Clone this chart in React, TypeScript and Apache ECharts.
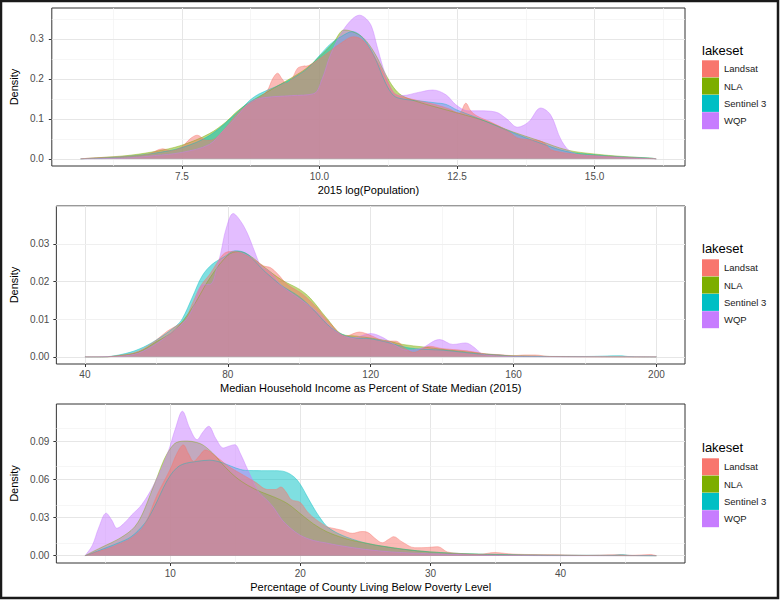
import React, { useEffect, useRef } from "react";
import * as echarts from "echarts";

type Pt = [number, number];

const seriesNames = ["Landsat", "NLA", "Sentinel 3", "WQP"];
const seriesColors = ["#F8766D", "#7CAE00", "#00BFC4", "#C77CFF"];
const legendTitle = "lakeset";
const yTitle = "Density";
const xTitles = [
  "2015 log(Population)",
  "Median Household Income as Percent of State Median (2015)",
  "Percentage of County Living Below Poverty Level",
];

// ---------- Panel 1: 2015 log(Population) ----------
const popXTicks = [7.5, 10, 12.5, 15];
const popXMinor = [6.25, 8.75, 11.25, 13.75, 16.25];
const popYTicks = [0, 0.1, 0.2, 0.3];
const popYMinor = [0.05, 0.15, 0.25, 0.35];

const popLandsat: Pt[] = [
  [5.66, 0], [6.0, 0.003], [6.5, 0.006], [6.9, 0.012], [7.15, 0.025], [7.3, 0.02], [7.5, 0.03],
  [7.65, 0.05], [7.78, 0.059], [7.95, 0.046], [8.1, 0.05], [8.3, 0.078], [8.5, 0.112], [8.7, 0.135],
  [8.9, 0.152], [9.05, 0.17], [9.15, 0.2], [9.24, 0.214], [9.32, 0.2], [9.4, 0.189], [9.5, 0.2],
  [9.6, 0.226], [9.68, 0.231], [9.8, 0.233], [10.0, 0.25], [10.2, 0.27], [10.4, 0.29], [10.62, 0.305],
  [10.8, 0.295], [11.0, 0.255], [11.12, 0.226], [11.25, 0.19], [11.36, 0.164], [11.5, 0.155],
  [11.65, 0.15], [11.9, 0.142], [12.12, 0.135], [12.35, 0.125], [12.54, 0.114], [12.66, 0.139],
  [12.75, 0.12], [12.85, 0.108], [13.14, 0.09], [13.43, 0.069], [13.6, 0.052], [13.79, 0.048],
  [14.0, 0.045], [14.1, 0.038], [14.2, 0.023], [14.4, 0.016], [14.62, 0.012], [15.0, 0.008],
  [15.52, 0.004], [16.12, 0],
];
const popNLA: Pt[] = [
  [5.66, 0], [6.0, 0.003], [6.5, 0.008], [7.0, 0.018], [7.5, 0.034], [8.0, 0.063], [8.3, 0.092],
  [8.5, 0.118], [8.75, 0.143], [9.0, 0.163], [9.25, 0.183], [9.5, 0.203], [9.75, 0.225], [10.0, 0.255],
  [10.25, 0.29], [10.45, 0.322], [10.6, 0.318], [10.8, 0.302], [11.0, 0.265], [11.2, 0.212],
  [11.35, 0.178], [11.5, 0.158], [11.8, 0.142], [12.1, 0.13], [12.5, 0.115], [13.0, 0.095],
  [13.5, 0.068], [14.0, 0.045], [14.5, 0.022], [15.0, 0.012], [15.5, 0.006], [16.0, 0.002], [16.12, 0],
];
const popSentinel: Pt[] = [
  [5.66, 0], [6.0, 0.002], [6.5, 0.006], [7.0, 0.014], [7.5, 0.028], [8.0, 0.058], [8.5, 0.115],
  [8.75, 0.148], [8.9, 0.162], [9.2, 0.18], [9.5, 0.2], [9.8, 0.228], [10.0, 0.258], [10.2, 0.287],
  [10.4, 0.306], [10.6, 0.318], [10.8, 0.3], [11.0, 0.255], [11.2, 0.19], [11.35, 0.158], [11.5, 0.15],
  [11.8, 0.145], [12.1, 0.14], [12.3, 0.136], [12.5, 0.122], [12.8, 0.106], [13.0, 0.095],
  [13.5, 0.066], [14.0, 0.04], [14.5, 0.018], [15.0, 0.01], [15.5, 0.005], [16.0, 0.002], [16.12, 0],
];
const popWQP: Pt[] = [
  [5.66, 0], [6.5, 0.002], [7.0, 0.008], [7.5, 0.016], [8.0, 0.036], [8.25, 0.07], [8.5, 0.106],
  [8.75, 0.143], [9.0, 0.153], [9.5, 0.158], [9.9, 0.163], [10.05, 0.2], [10.2, 0.26], [10.4, 0.315],
  [10.6, 0.35], [10.73, 0.359], [10.85, 0.35], [10.95, 0.33], [11.05, 0.28], [11.2, 0.21],
  [11.35, 0.165], [11.5, 0.158], [11.8, 0.166], [12.06, 0.172], [12.3, 0.16], [12.48, 0.135],
  [12.7, 0.12], [12.9, 0.12], [13.2, 0.117], [13.4, 0.1], [13.6, 0.079], [13.8, 0.092], [14.02, 0.127],
  [14.2, 0.11], [14.4, 0.045], [14.6, 0.015], [15.0, 0.007], [15.5, 0.003], [16.12, 0],
];

// ---------- Panel 2: Median household income ----------
const incXTicks = [40, 80, 120, 160, 200];
const incXMinor = [60, 100, 140, 180];
const incYTicks = [0, 0.01, 0.02, 0.03];
const incYMinor = [0.005, 0.015, 0.025, 0.035];

const incLandsat: Pt[] = [
  [40, 0], [45, 0], [50, 0.0004], [55, 0.0015], [60, 0.0045], [63, 0.0068], [65.5, 0.0082],
  [68, 0.0098], [70, 0.014], [72.5, 0.019], [75, 0.022], [77, 0.025], [79, 0.0275], [81, 0.028],
  [84, 0.0275], [87, 0.026], [90, 0.0242], [92, 0.0237], [94, 0.022], [96.6, 0.0193], [101, 0.0166],
  [105, 0.013], [108.5, 0.0091], [113, 0.0055], [116.8, 0.0066], [120.5, 0.0055], [124, 0.0042],
  [126.9, 0.0042], [130, 0.002], [132, 0.0012], [136.5, 0.0028], [140, 0.0022], [147, 0.0016],
  [152, 0.0008], [156, 0.0006], [160, 0.0003], [163, 0.0005], [166, 0.0005], [170, 0.0001], [200, 0],
];
const incNLA: Pt[] = [
  [40, 0], [45, 0], [50, 0.0004], [55, 0.0013], [60, 0.004], [65, 0.007], [70, 0.013], [75, 0.021],
  [80, 0.027], [83, 0.028], [86, 0.027], [90, 0.024], [95, 0.0205], [100, 0.018], [103, 0.0157],
  [107.6, 0.0104], [112, 0.006], [116, 0.0055], [120, 0.005], [125, 0.0042], [129, 0.0033],
  [135, 0.0026], [140, 0.002], [146, 0.0014], [150, 0.001], [155, 0.0005], [160, 0.0003],
  [170, 0.0001], [200, 0],
];
const incSentinel: Pt[] = [
  [40, 0], [45, 0], [50, 0.0006], [55, 0.002], [60, 0.0045], [65.5, 0.0082], [67.3, 0.0102],
  [70, 0.0157], [72.8, 0.0215], [75.6, 0.0246], [79.2, 0.0267], [82, 0.0282], [85, 0.0276],
  [88, 0.025], [90, 0.023], [95, 0.019], [100, 0.016], [104, 0.0125], [108, 0.0085], [112, 0.006],
  [116, 0.005], [120, 0.0048], [125, 0.0038], [130, 0.0025], [135, 0.002], [140, 0.0018],
  [146, 0.0012], [150, 0.0008], [155, 0.0006], [160, 0.0002], [180, 0.0001], [190, 0.0003],
  [192, 0.0001], [200, 0],
];
const incWQP: Pt[] = [
  [40, 0], [50, 0.0002], [55, 0.001], [60, 0.0035], [65, 0.007], [68, 0.0095], [70, 0.0125],
  [72.6, 0.019], [74, 0.0192], [75.5, 0.0195], [77, 0.024], [78, 0.0275], [79.5, 0.034],
  [81.5, 0.0381], [83.5, 0.0362], [85.6, 0.0326], [87.5, 0.028], [89.3, 0.0242], [92, 0.0225],
  [95, 0.019], [100, 0.0155], [105, 0.012], [110, 0.007], [115, 0.005], [120, 0.0062],
  [123.7, 0.005], [127, 0.003], [130, 0.0018], [134, 0.0022], [139.3, 0.0046], [143, 0.0033],
  [146.6, 0.0037], [149, 0.0025], [151.2, 0.0008], [155, 0.0003], [160, 0.0001], [200, 0],
];

// ---------- Panel 3: Poverty level ----------
const povXTicks = [10, 20, 30, 40];
const povXMinor = [5, 15, 25, 35, 45];
const povYTicks = [0, 0.03, 0.06, 0.09];
const povYMinor = [0.015, 0.045, 0.075, 0.105];

const povLandsat: Pt[] = [
  [3.44, 0], [4, 0.002], [5, 0.005], [6, 0.009], [7, 0.014], [8, 0.024], [9, 0.048], [10, 0.068],
  [10.5, 0.08], [11, 0.087], [11.4, 0.08], [11.8, 0.074], [12.2, 0.078], [12.7, 0.083],
  [13.5, 0.078], [14.5, 0.07], [15.5, 0.064], [16.5, 0.058], [17.5, 0.052], [18.1, 0.052],
  [18.5, 0.054], [18.9, 0.05], [19.3, 0.044], [19.97, 0.042], [20.5, 0.035], [21, 0.03], [22, 0.023],
  [22.5, 0.0216], [23.2, 0.02], [24, 0.0176], [24.7, 0.019], [25.16, 0.0184], [25.7, 0.014],
  [26.29, 0.0102], [26.8, 0.013], [27.17, 0.015], [27.8, 0.011], [28.8, 0.0063], [29.8, 0.0065],
  [30.57, 0.0071], [31.3, 0.003], [32.5, 0.0015], [33.7, 0.001], [34.97, 0.0026], [36, 0.0015],
  [37.3, 0.001], [39.8, 0.0008], [42, 0.0003], [44.3, 0.0008], [45.5, 0.0003], [46.9, 0.001],
  [47.37, 0],
];
const povNLA: Pt[] = [
  [3.44, 0], [4, 0.003], [5, 0.008], [6, 0.013], [7, 0.02], [7.5, 0.026], [8, 0.036], [8.5, 0.049],
  [9, 0.062], [9.5, 0.075], [10, 0.084], [10.5, 0.089], [11.3, 0.09], [12, 0.089], [12.5, 0.087],
  [13, 0.083], [13.5, 0.078], [14, 0.072], [15, 0.062], [16, 0.055], [17, 0.05], [18, 0.046],
  [19, 0.041], [20, 0.033], [21, 0.025], [22, 0.019], [23, 0.015], [24, 0.012], [25, 0.01],
  [26, 0.008], [28, 0.005], [30, 0.003], [33, 0.0015], [36, 0.0008], [40, 0.0003], [47.37, 0],
];
const povSentinel: Pt[] = [
  [3.44, 0], [4, 0.002], [5, 0.006], [6, 0.01], [7, 0.015], [8, 0.025], [8.5, 0.033], [9, 0.043],
  [9.5, 0.054], [10, 0.063], [10.5, 0.069], [11, 0.072], [12, 0.074], [13, 0.075], [14, 0.073],
  [15, 0.069], [15.8, 0.067], [17, 0.0668], [18, 0.0668], [18.8, 0.066], [19.5, 0.062], [20, 0.056],
  [20.5, 0.047], [21, 0.038], [21.5, 0.03], [22.1, 0.0225], [23, 0.017], [24, 0.013], [25, 0.01],
  [26, 0.008], [28, 0.005], [30, 0.003], [33, 0.0015], [36, 0.001], [40, 0.0005], [44, 0.0004],
  [44.7, 0.0009], [45.3, 0.0003], [47.37, 0],
];
const povWQP: Pt[] = [
  [3.44, 0], [4, 0.008], [4.5, 0.022], [5.07, 0.0334], [5.5, 0.028], [5.9, 0.0216], [6.5, 0.026],
  [7.03, 0.032], [7.8, 0.04], [8.8, 0.057], [9.8, 0.0806], [10.4, 0.1], [10.93, 0.1134], [11.5, 0.1],
  [12.06, 0.0911], [12.5, 0.097], [12.95, 0.1016], [13.5, 0.092], [14.08, 0.0846], [14.5, 0.086],
  [14.96, 0.0872], [15.4, 0.08], [15.84, 0.07], [16.3, 0.06], [16.8, 0.05], [17.5, 0.043],
  [18, 0.037], [18.6, 0.028], [19.2, 0.022], [20, 0.016], [21, 0.012], [22, 0.01], [23, 0.008],
  [25, 0.005], [27, 0.003], [30, 0.0015], [33, 0.0008], [36, 0.0003], [40, 0], [47.37, 0],
];

const FONT = "'Liberation Sans', Arial, Helvetica, sans-serif";

const panels = [
  {
    box: [40, 8, 645, 158], xRange: [5.137, 16.643], yRange: [-0.018, 0.377],
    xTicks: popXTicks, xMinor: popXMinor, yTicks: popYTicks, yMinor: popYMinor,
    xDec: 1, yDec: 1, yLabelMargin: 8, yNameGap: 21, legendTop: 60.3, titleY: 50,
    data: [popLandsat, popNLA, popSentinel, popWQP],
  },
  {
    box: [45, 206, 640, 158], xRange: [32, 208], yRange: [-0.0019, 0.0401],
    xTicks: incXTicks, xMinor: incXMinor, yTicks: incYTicks, yMinor: incYMinor,
    xDec: 0, yDec: 2, yLabelMargin: 7, yNameGap: 26, legendTop: 259.3, titleY: 248,
    data: [incLandsat, incNLA, incSentinel, incWQP],
  },
  {
    box: [45, 404, 640, 159], xRange: [1.243, 49.567], yRange: [-0.0057, 0.1191],
    xTicks: povXTicks, xMinor: povXMinor, yTicks: povYTicks, yMinor: povYMinor,
    xDec: 0, yDec: 2, yLabelMargin: 7, yNameGap: 26, legendTop: 458.3, titleY: 447,
    data: [povLandsat, povNLA, povSentinel, povWQP],
  },
];

// layer order, bottom to top: NLA, Sentinel 3, WQP, Landsat
const drawOrder = [1, 2, 3, 0];

function buildOption() {
  const grid: any[] = [];
  const xAxis: any[] = [];
  const yAxis: any[] = [];
  const series: any[] = [];
  const legend: any[] = [];
  const graphic: any[] = [];

  panels.forEach((p, i) => {
    grid.push({
      left: p.box[0], top: p.box[1], width: p.box[2], height: p.box[3],
      show: true, borderColor: "#333333", borderWidth: 1, backgroundColor: "transparent",
    });
    xAxis.push({
      type: "value", gridIndex: i, min: p.xRange[0], max: p.xRange[1],
      axisLine: { show: false, onZero: false },
      splitLine: { show: false },
      axisTick: { show: true, customValues: p.xTicks, length: 3, lineStyle: { color: "#333333" } },
      axisLabel: {
        customValues: p.xTicks, color: "#4d4d4d", fontSize: 10, margin: 5, fontFamily: FONT,
        formatter: (v: number) => v.toFixed(p.xDec),
      },
      name: xTitles[i], nameLocation: "middle", nameGap: 18,
      nameTextStyle: { color: "#000000", fontSize: 11, fontFamily: FONT },
    });
    yAxis.push({
      type: "value", gridIndex: i, min: p.yRange[0], max: p.yRange[1],
      axisLine: { show: false, onZero: false },
      splitLine: { show: false },
      axisTick: { show: true, customValues: p.yTicks, length: 3, lineStyle: { color: "#333333" } },
      axisLabel: {
        customValues: p.yTicks, color: "#4d4d4d", fontSize: 10, margin: p.yLabelMargin, fontFamily: FONT,
        formatter: (v: number) => v.toFixed(p.yDec),
      },
      name: yTitle, nameLocation: "middle", nameGap: p.yNameGap,
      nameTextStyle: { color: "#000000", fontSize: 11, fontFamily: FONT },
    });

    const gridLines = [
      ...p.xTicks.map((v) => ({ xAxis: v, lineStyle: { color: "#e6e6e6", width: 1, type: "solid" } })),
      ...p.xMinor.map((v) => ({ xAxis: v, lineStyle: { color: "#f2f2f2", width: 0.7, type: "solid" } })),
      ...p.yTicks.map((v) => ({ yAxis: v, lineStyle: { color: "#e6e6e6", width: 1, type: "solid" } })),
      ...p.yMinor.map((v) => ({ yAxis: v, lineStyle: { color: "#f2f2f2", width: 0.7, type: "solid" } })),
    ];

    drawOrder.forEach((k, order) => {
      const s: any = {
        type: "line", name: seriesNames[k], xAxisIndex: i, yAxisIndex: i,
        data: p.data[k], smooth: 0.35, showSymbol: false, symbol: "none", silent: true, z: 2,
        lineStyle: { color: seriesColors[k], width: 0.6, opacity: 0.7 },
        itemStyle: { color: seriesColors[k] },
        areaStyle: { color: seriesColors[k], opacity: 0.5 },
      };
      if (order === 0) {
        s.markLine = {
          silent: true, symbol: ["none", "none"], z: 1, animation: false,
          label: { show: false }, emphasis: { disabled: true },
          lineStyle: { type: "solid" },
          data: gridLines,
        };
      }
      series.push(s);
    });

    legend.push({
      orient: "vertical", left: 702, top: p.legendTop, padding: 0,
      itemWidth: 17, itemHeight: 17, itemGap: 0.3, icon: "rect", selectedMode: false,
      textStyle: { fontSize: 9.5, color: "#1a1a1a", fontFamily: FONT },
      data: seriesNames.map((n, k) => ({ name: n, itemStyle: { color: seriesColors[k] } })),
    });

    graphic.push({
      type: "text", x: 702, y: p.titleY, silent: true,
      style: { text: legendTitle, fontSize: 13, fontFamily: FONT, fill: "#000000", verticalAlign: "middle" },
    });
  });

  graphic.push({
    type: "rect", silent: true, z: 100,
    shape: { x: 1, y: 1, width: 777, height: 597 },
    style: { fill: "none", stroke: "#1a1a1a", lineWidth: 2.5 },
  });

  return {
    animation: false,
    backgroundColor: "#ffffff",
    grid, xAxis, yAxis, series, legend, graphic,
  };
}

export default function App() {
  const ref = useRef<HTMLDivElement>(null);
  useEffect(() => {
    if (!ref.current) return;
    const chart = echarts.init(ref.current, undefined, { renderer: "svg" });
    chart.setOption(buildOption() as any);
    return () => chart.dispose();
  }, []);
  return (
    <div
      ref={ref}
      style={{ position: "fixed", left: 0, top: 0, width: 780, height: 600, background: "#ffffff" }}
    />
  );
}
